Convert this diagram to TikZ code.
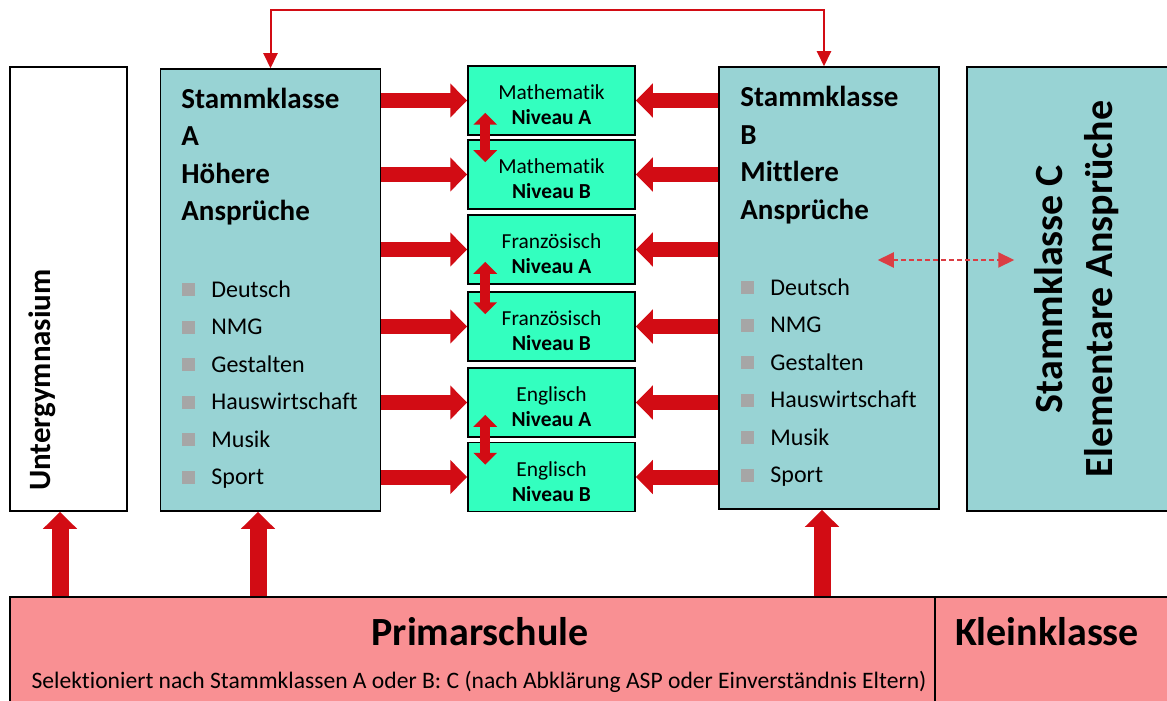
\documentclass[tikz,border=0pt]{standalone}
\usepackage{fontspec}
\setmainfont{Carlito}[Ligatures=NoCommon]
\usepackage{xcolor}
\usepackage{tikz}
\usetikzlibrary{positioning,calc,arrows.meta}

\definecolor{stammteal}{HTML}{98D3D4}
\definecolor{niveaugreen}{HTML}{33FFBF}
\definecolor{primpink}{HTML}{F99093}
\definecolor{arrowred}{HTML}{D20C14}
\definecolor{bulletgray}{HTML}{A6A6A6}

\tikzset{
  box/.style={draw=black, line width=0.75pt, inner sep=0pt},
  stamm/.style={box, fill=stammteal, minimum width=110pt, minimum height=221pt},
  niveau/.style={box, fill=niveaugreen, minimum width=83.5pt, minimum height=34.5pt, align=center, text height=24.3pt, text depth=0pt, font=\fontsize{10.7}{12.5}\selectfont},
  prim/.style={box, fill=primpink},
  title/.style={anchor=base west, inner sep=0pt, align=left, font=\fontsize{14.5}{18.75}\selectfont\bfseries},
  subject/.style={anchor=base west, inner sep=0pt, font=\fontsize{12}{14}\selectfont},
  bullet/.style={fill=bulletgray, inner sep=0pt, minimum size=6.5pt},
  bigarrow/.style={draw=arrowred, line width=7.5pt, -{Triangle[length=8.5pt,width=16.5pt]}},
  uparrow/.style={draw=arrowred, line width=8.5pt, -{Triangle[length=8.5pt,width=16.5pt]}},
  dblarrow/.style={draw=arrowred, line width=5pt, {Triangle[length=6pt,width=11.5pt]}-{Triangle[length=6pt,width=11.5pt]}},
  link/.style={draw=arrowred, line width=1pt, {Triangle[length=7.5pt,width=7pt]}-{Triangle[length=7.5pt,width=7pt]}},
  dashlink/.style={draw=arrowred!80, line width=1pt, dash pattern=on 2.5pt off 1.5pt, {Triangle[length=8pt,width=7.5pt]}-{Triangle[length=8pt,width=7.5pt]}}
}

\begin{document}
\begin{tikzpicture}[x=0.5pt, y=-0.5pt]
  \useasboundingbox (0,0) rectangle (1167,701);
  \clip (0,0) rectangle (1167,701);

  % Untergymnasium
  \node[box, fill=white, minimum width=58.5pt, minimum height=222pt] (unter) at (68.5,289) {};
  \node[rotate=90, font=\fontsize{15.5}{18}\selectfont\bfseries] (unterT) at (42,380) {Untergymnasium};

  % Stammklassen
  \node[stamm] (stA) at (270.5,290) {};
  \node[title] (stAT) at (181,220.5) {Stammklasse\\A\\Höhere\\Ansprüche};
  \node[stamm] (stB) at (829,288) {};
  \node[title] (stBT) at (740,219.5) {Stammklasse\\B\\Mittlere\\Ansprüche};
  \node[stamm, minimum width=104pt, minimum height=222pt] (stC) at (1071,289) {};
  \node[rotate=90, align=center, font=\fontsize{20}{25}\selectfont\bfseries] (stCT) at (1077,289) {Stammklasse C\\Elementare Ansprüche};

  % Faecher
  \foreach \subj [count=\i from 0] in {Deutsch,NMG,Gestalten,Hauswirtschaft,Musik,Sport} {
    \node[bullet] at (188.5,289.5+37.5*\i) {};
    \node[subject] at (211,297+37.5*\i) {\subj};
    \node[bullet] at (747.5,287.5+37.5*\i) {};
    \node[subject] at (770,295+37.5*\i) {\subj};
  }

  % Niveaugruppen
  \node[niveau] (mA) at (551.5,100.5) {Mathematik\\\textbf{Niveau A}};
  \node[niveau] (mB) at (551.5,174.5) {Mathematik\\\textbf{Niveau B}};
  \node[niveau] (fA) at (551.5,249.5) {Französisch\\\textbf{Niveau A}};
  \node[niveau] (fB) at (551.5,326.5) {Französisch\\\textbf{Niveau B}};
  \node[niveau] (eA) at (551.5,402.5) {Englisch\\\textbf{Niveau A}};
  \node[niveau] (eB) at (551.5,477) {Englisch\\\textbf{Niveau B}};

  \foreach \n in {mA,mB,fA,fB,eA,eB} {
    \draw[bigarrow] (\n.west -| stA.east) -- (\n.west);
    \draw[bigarrow] (\n.east -| stB.west) -- (\n.east);
  }
  \foreach \u/\l in {mA/mB,fA/fB,eA/eB}
    \draw[dblarrow] ([shift={(18,-23)}]\u.south west) -- ([shift={(18,23)}]\l.north west);

  % Primarschule
  \node[prim, minimum width=462.5pt, minimum height=60pt] (prim) at (472.5,657) {};
  \node[prim, minimum width=125pt, minimum height=60pt] (klein) at (1060,657) {};
  \node[font=\fontsize{20}{24}\selectfont\bfseries] (primT) at (480,632) {Primarschule};
  \node[font=\fontsize{11.8}{14}\selectfont] (primS) at (479,682) {Selektioniert nach Stammklassen A oder B: C (nach Abklärung ASP oder Einverständnis Eltern)};
  \node[font=\fontsize{20}{24}\selectfont\bfseries] (kleinT) at (1047,632) {Kleinklasse};

  \draw[uparrow] ([xshift=-4.25pt]unter.south |- prim.north) -- ([xshift=-4.25pt]unter.south);
  \draw[uparrow] ([xshift=-6.25pt]stA.south |- prim.north) -- ([xshift=-6.25pt]stA.south);
  \draw[uparrow] ([xshift=-3.5pt]stB.south |- prim.north) -- ([xshift=-3.5pt]stB.south);

  % Verbindungen
  \draw[link] (stA.north) -- ++(0,-58) -| ([xshift=-2.5pt]stB.north);
  \draw[dashlink] ([shift={(-62,-28)}]stB.east) -- ([shift={(48,-29)}]stC.west);
\end{tikzpicture}
\end{document}
